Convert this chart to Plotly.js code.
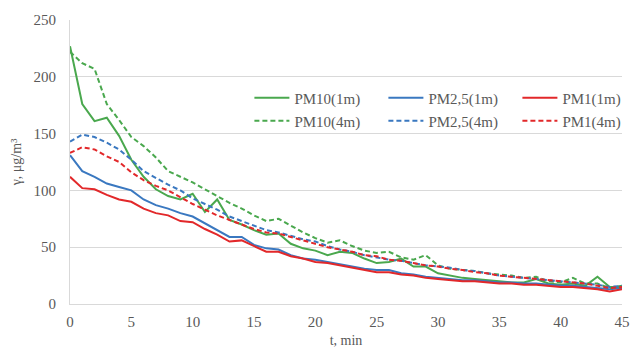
<!DOCTYPE html>
<html>
<head>
<meta charset="utf-8">
<script src="https://cdn.plot.ly/plotly-3.0.1.min.js"></script>
<style>html,body{margin:0;padding:0;background:#fff;}#chart{width:634px;height:349px;}</style>
</head>
<body>
<div id="chart"></div>
<script>
const t = [0,1,2,3,4,5,6,7,8,9,10,11,12,13,14,15,16,17,18,19,20,21,22,23,24,25,26,27,28,29,30,31,32,33,34,35,36,37,38,39,40,41,42,43,44,45];

const pm10_1m = [227,176,161,164,148,127,112,101,95,92,97,81,92,74,70,65,61,62,53,49,47,43,46,45,40,36,37,40,33,33,27,25,23,22,21,20,19,19,22,18,17,18,16,24,15,15];
const pm25_1m = [131,117,112,106,103,100,92,87,84,80,77,71,65,59,59,52,49,48,43,40,39,37,35,33,31,30,30,27,26,24,23,22,21,21,20,19,19,18,18,17,16,16,15,14,13,14];
const pm1_1m  = [112,102,101,96,92,90,84,80,78,73,72,66,61,55,56,51,46,46,42,40,37,36,34,32,30,28,28,26,25,23,22,21,20,20,19,18,18,17,17,16,15,15,14,13,11,13];
const pm10_4m = [222,212,207,176,162,147,139,129,117,112,107,101,95,89,84,78,73,75,69,63,58,54,56,51,47,45,46,41,39,43,34,31,30,29,27,26,25,23,24,20,19,23,18,18,14,16];
const pm25_4m = [143,149,147,142,136,127,117,111,105,100,93,88,83,77,73,69,65,63,60,57,55,51,48,46,43,41,39,38,36,34,33,32,30,29,27,25,24,23,22,21,20,19,18,17,15,16];
const pm1_4m  = [133,138,136,130,125,116,109,104,100,94,88,83,78,74,70,66,63,62,59,56,53,50,48,46,43,42,39,38,36,34,33,31,30,28,27,25,24,23,22,21,20,19,18,16,14,15];

const names = ["PM10(1m)","PM2,5(1m)","PM1(1m)","PM10(4m)","PM2,5(4m)","PM1(4m)"];
const series = [pm10_1m, pm25_1m, pm1_1m, pm10_4m, pm25_4m, pm1_4m];
const colors = ["#4aa84e","#3a78c0","#e2282a","#4aa84e","#3a78c0","#e2282a"];
const dashes = ["solid","solid","solid","5px,3px","5px,3px","5px,3px"];

const traces = series.map((s,i)=>({
  x: t, y: s, type: "scatter", mode: "lines", name: names[i],
  line: {color: colors[i], width: 2, dash: dashes[i]},
  legend: i < 3 ? "legend" : "legend2"
}));

const font = "'Liberation Serif', 'DejaVu Serif', serif";
const legendCommon = {
  orientation: "h", xanchor: "left", yanchor: "middle",
  font: {family: font, size: 15, color: "#595959"},
  bgcolor: "rgba(0,0,0,0)", entrywidth: 84, entrywidthmode: "pixels",
  itemwidth: 35, tracegroupgap: 0
};

const layout = {
  width: 634, height: 349,
  margin: {l: 70, r: 12, t: 20, b: 45, autoexpand: false},
  paper_bgcolor: "#fff", plot_bgcolor: "#fff",
  font: {family: font, size: 15, color: "#595959"},
  showlegend: true,
  legend: Object.assign({x: 0.325, y: 0.725}, legendCommon),
  legend2: Object.assign({x: 0.325, y: 0.644}, legendCommon),
  xaxis: {
    range: [0, 45], tickvals: [0,5,10,15,20,25,30,35,40,45],
    showgrid: false, zeroline: false, showline: true, linecolor: "#d9d9d9", linewidth: 1,
    ticks: "", ticklabelstandoff: 4, tickfont: {family: font, size: 15, color: "#595959"},
    title: {text: "t, min", font: {family: font, size: 14, color: "#595959"}, standoff: 6}
  },
  yaxis: {
    range: [0, 250], tickvals: [0,50,100,150,200,250],
    showgrid: true, gridcolor: "#d9d9d9", gridwidth: 1, zeroline: false,
    showline: true, linecolor: "#d9d9d9", linewidth: 1,
    ticks: "", ticklabelstandoff: 10, tickfont: {family: font, size: 15, color: "#595959"},
    title: {text: "γ, μg/m³", font: {family: font, size: 14, color: "#595959"}, standoff: 8}
  }
};

Plotly.newPlot("chart", traces, layout, {displayModeBar: false, staticPlot: true});
</script>
</body>
</html>
